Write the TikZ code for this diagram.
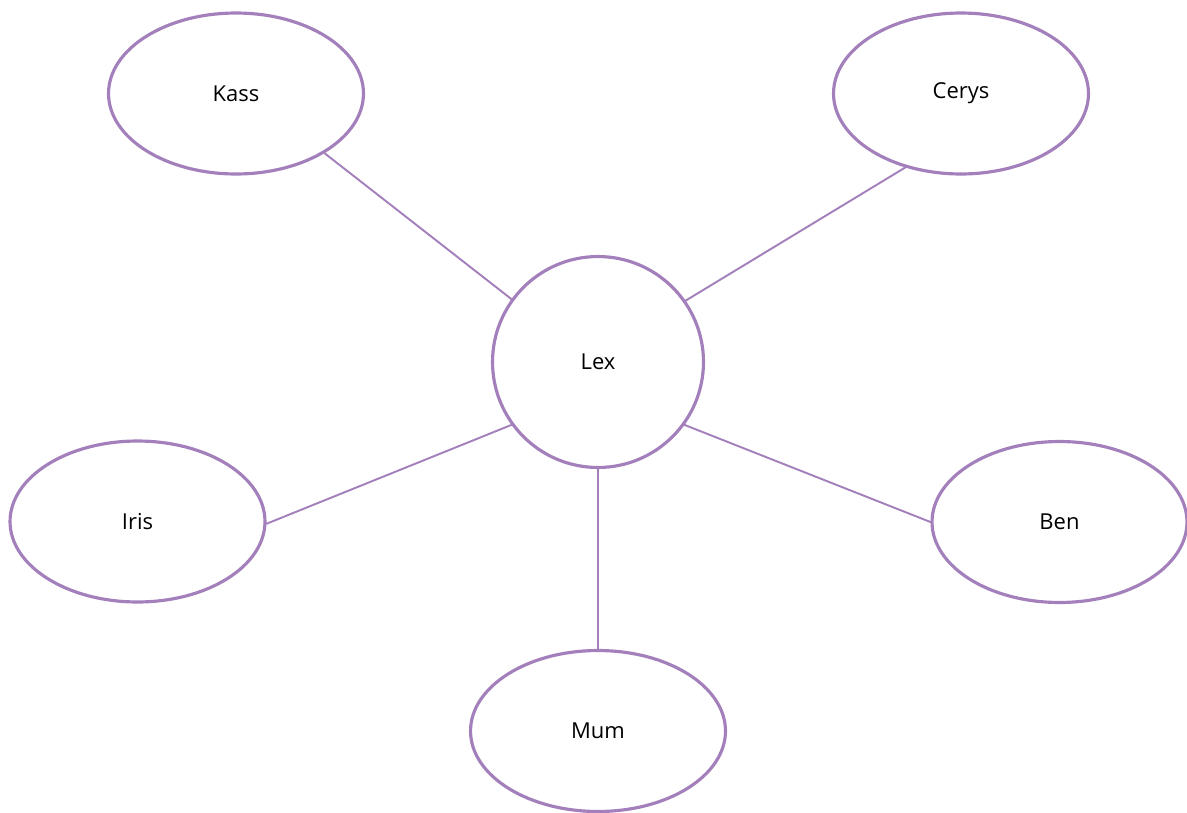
\documentclass[tikz,border=0pt]{standalone}
\usepackage{fontspec}
\setmainfont{Open Sans}
\usetikzlibrary{shapes.geometric}
\definecolor{lilac}{RGB}{163,128,187}
\begin{document}
\begin{tikzpicture}[x=0.02cm, y=-0.02cm, line cap=round, line join=round,
    friend/.style={ellipse, draw=lilac, line width=1.8pt, inner sep=0pt,
      minimum width=5.1cm, minimum height=3.22cm, font=\fontsize{12.5}{15}\selectfont},
    me/.style={circle, draw=lilac, line width=1.8pt, inner sep=0pt,
      minimum size=4.22cm, font=\fontsize{12.5}{15}\selectfont},
    tie/.style={draw=lilac, line width=1.1pt}]
  \useasboundingbox (0,0) rectangle (1187,812);

  \node[me] (lex) at (598,362) {Lex};
  \node[friend] (kass) at (236,93.5) {Kass};
  \node[friend] (cerys) at (961,93.5) {Cerys};
  \node[friend] (iris) at (137.5,521.5) {Iris};
  \node[friend] (ben) at (1059.5,522) {Ben};
  \node[friend] (mum) at (598,731) {Mum};

  \path[tie] (lex.144) -- (kass.-34);
  \path[tie] (lex.35) -- (cerys.233);
  \path[tie] (lex.216) -- (iris.-1);
  \path[tie] (lex.-36) -- (ben.west);
  \path[tie] (lex.south) -- (mum.north);
\end{tikzpicture}
\end{document}
